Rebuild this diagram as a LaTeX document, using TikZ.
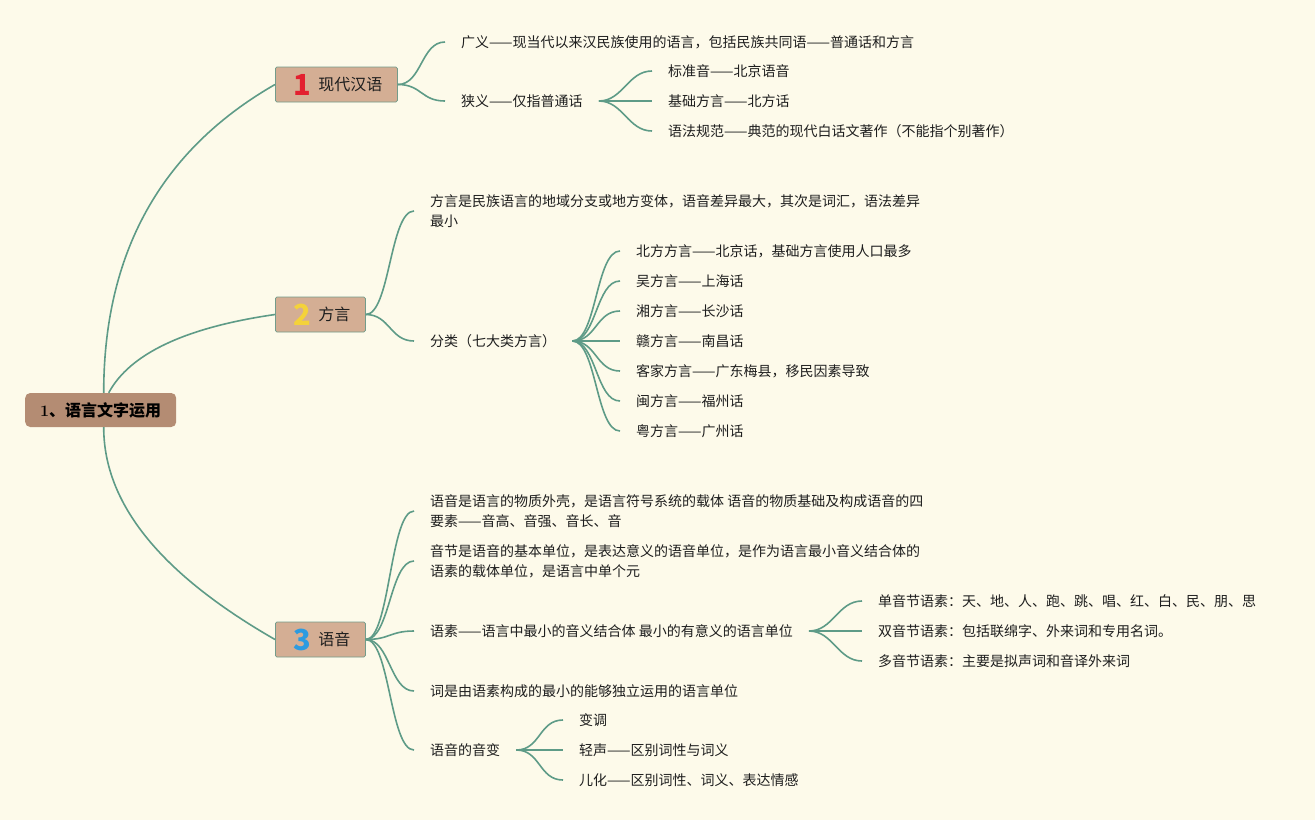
\documentclass[tikz,border=0pt]{standalone}
\usepackage{fontspec}
\newfontfamily\cjk{Noto Sans CJK SC}
\usetikzlibrary{calc}
\definecolor{paper}{HTML}{FDFAEA}
\definecolor{branchc}{HTML}{5E9B87}
\definecolor{topicc}{HTML}{D4AE94}
\definecolor{rootc}{HTML}{B48C73}
\definecolor{edgec}{HTML}{739C8B}
\definecolor{inkc}{HTML}{1E1E1E}
\definecolor{oner}{HTML}{E3202F}
\definecolor{twoy}{HTML}{F4D23A}
\definecolor{threeb}{HTML}{2D9BE0}

% number badge + title inside a main topic
\newcommand{\topicnum}[3]{\hspace*{19pt}\makebox[16pt]{\fontsize{29pt}{29pt}\selectfont\bfseries\color{#1}\raisebox{-4.5pt}{#2}}\hspace*{8pt}#3\hspace*{15pt}}
% curved branch from a parent to a child
\newcommand{\twig}[2]{\draw[twig] (#1.east) .. controls +(24,0) and +(-24,0) .. (#2.west);}

\begin{document}
\begin{tikzpicture}[x=1pt,y=-1pt,
	twig/.style={draw=branchc,line width=1.6pt},
	leaf/.style={anchor=west,inner xsep=16pt,inner ysep=0pt,text=inkc,align=left,
		font={\cjk\fontsize{14pt}{20pt}\selectfont},text height=12.3pt,text depth=1.7pt},
	twoline/.style={leaf,text height=32.3pt},
	topic/.style={anchor=west,draw=edgec,fill=topicc,line width=0.8pt,rounded corners=1.5pt,
		inner sep=0pt,minimum height=35pt,text=inkc,
		font={\cjk\fontsize{16pt}{16pt}\selectfont},text height=14pt,text depth=2pt},
	rootbox/.style={anchor=west,fill=rootc,rounded corners=5pt,inner xsep=15pt,inner ysep=0pt,
		minimum height=34pt,text=black,font={\fontsize{16pt}{16pt}\selectfont\bfseries},
		text height=14pt,text depth=2pt}]

\useasboundingbox (0,0) rectangle (1315,820);
\fill[paper] (0,0) rectangle (1315,820);

\node[rootbox] (root) at (25,410) {1{\cjk\bfseries 、语言文字运用}};

\node[topic] (han) at (275,84.5) {\topicnum{oner}{1}{现代汉语}};
\node[topic] (fang) at (275,314.5) {\topicnum{twoy}{2}{方言}};
\node[topic] (yin) at (275,639.5) {\topicnum{threeb}{3}{语音}};

\draw[twig] ([xshift=3pt]root.north) .. controls +(0,-139) and +(-115,66) .. (han.west);
\draw[twig] ([xshift=8pt]root.north) .. controls +(21,-39) and +(-90,13) .. (fang.west);
\draw[twig] ([xshift=3pt]root.south) .. controls +(0,76) and +(-115,-66) .. (yin.west);

%现代汉语
\node[leaf] (guang) at (445,42) {广义——现当代以来汉民族使用的语言，包括民族共同语——普通话和方言};
\node[leaf] (xia) at (445,101) {狭义——仅指普通话};
\node[leaf] (biao) at (652,71) {标准音——北京语音};
\node[leaf] (jichu) at (652,101) {基础方言——北方话};
\node[leaf] (yufa) at (652,131) {语法规范——典范的现代白话文著作（不能指个别著作）};
\twig{han}{guang}
\twig{han}{xia}
\twig{xia}{biao}
\twig{xia}{jichu}
\twig{xia}{yufa}

%方言
\node[twoline] (def) at (414,211) {方言是民族语言的地域分支或地方变体，语音差异最大，其次是词汇，语法差异\\最小};
\node[leaf] (fenlei) at (414,341) {分类（七大类方言）};
\twig{fang}{def}
\twig{fang}{fenlei}
\foreach \txt [count=\k from 0] in {北方方言——北京话，基础方言使用人口最多,吴方言——上海话,湘方言——长沙话,
	赣方言——南昌话,客家方言——广东梅县，移民因素导致,闽方言——福州话,粤方言——广州话}{
	\node[leaf] (dial\k) at (620,{251+30*\k}) {\txt};
	\twig{fenlei}{dial\k}
}

%语音
\node[twoline] (waike) at (414,511) {语音是语言的物质外壳，是语言符号系统的载体 语音的物质基础及构成语音的四\\要素——音高、音强、音长、音};
\node[twoline] (yinjie) at (414,561) {音节是语音的基本单位，是表达意义的语音单位，是作为语言最小音义结合体的\\语素的载体单位，是语言中单个元};
\node[leaf] (yusu) at (414,631) {语素——语言中最小的音义结合体 最小的有意义的语言单位};
\node[leaf] (ci) at (414,691) {词是由语素构成的最小的能够独立运用的语言单位};
\node[leaf] (yinbian) at (414,750) {语音的音变};
\twig{yin}{waike}
\twig{yin}{yinjie}
\twig{yin}{yusu}
\twig{yin}{ci}
\twig{yin}{yinbian}

\node[leaf] (dan) at (862,601) {单音节语素：天、地、人、跑、跳、唱、红、白、民、朋、思};
\node[leaf] (shuang) at (862,631) {双音节语素：包括联绵字、外来词和专用名词。};
\node[leaf] (duo) at (862,661) {多音节语素：主要是拟声词和音译外来词};
\twig{yusu}{dan}
\twig{yusu}{shuang}
\twig{yusu}{duo}

\node[leaf] (biandiao) at (563,720) {变调};
\node[leaf] (qing) at (563,750) {轻声——区别词性与词义};
\node[leaf] (er) at (563,780) {儿化——区别词性、词义、表达情感};
\twig{yinbian}{biandiao}
\twig{yinbian}{qing}
\twig{yinbian}{er}

\end{tikzpicture}
\end{document}
